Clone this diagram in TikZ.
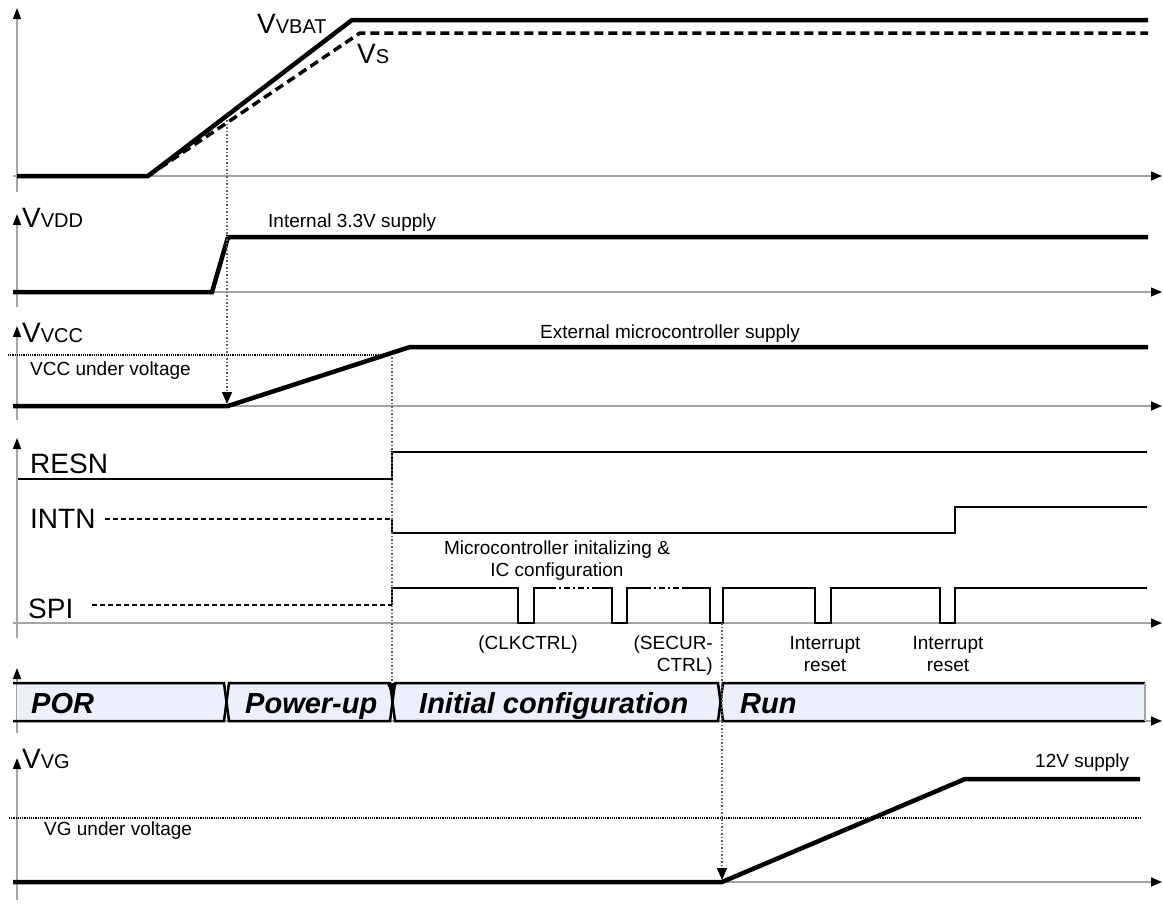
\documentclass[tikz,border=0pt]{standalone}
\usepackage{fontspec}
\setmainfont{Liberation Sans}
\usetikzlibrary{arrows.meta, positioning, calc}
\definecolor{axisGray}{RGB}{165,165,165}
\definecolor{guideGray}{RGB}{95,95,95}
\definecolor{stateFill}{RGB}{236,239,252}
\newcommand{\sigV}[1]{{\fontsize{28}{30}\selectfont V}{\fontsize{20}{22}\selectfont #1}}
\tikzset{
    timeAxis/.style={axisGray, line width=1.5pt, -{Triangle[length=11pt, width=9pt, color=black]}},
    levelAxis/.style={axisGray, line width=1.5pt, -{Triangle[length=11pt, width=8pt, color=black]}},
    supplyLine/.style={line width=4.5pt, line join=miter},
    logicLine/.style={line width=2.5pt, line join=miter},
    floatLine/.style={line width=2pt, dash pattern=on 5pt off 3pt},
    gapLine/.style={line width=2.5pt, dash pattern=on 6pt off 3pt on 2pt off 3pt},
    guideLine/.style={guideGray, line width=1.5pt, dotted},
    guideArrow/.style={guideLine, -{Triangle[length=12pt, width=10pt, color=black]}},
    threshLine/.style={line width=1.2pt, densely dotted},
    stateBox/.style={line width=2.5pt, fill=stateFill, line join=miter},
    voltLabel/.style={anchor=base west, inner sep=0pt},
    sigName/.style={font=\fontsize{28}{30}\selectfont, anchor=base west, inner sep=0pt},
    stateName/.style={font=\fontsize{29}{31}\selectfont\bfseries\itshape, anchor=base west, inner sep=0pt},
    note/.style={font=\fontsize{19}{22}\selectfont, inner sep=0pt, align=center},
}

\begin{document}
\begin{tikzpicture}[x=1pt, y=-1pt]
    \useasboundingbox (0,0) rectangle (1163,911);

    % VBAT and VS
    \draw[levelAxis] (17,192) -- (17,8);
    \draw[timeAxis] (13,176) -- (1162,176);
    \draw[supplyLine] (17,176) -- (148,176) -- (352,20) -- (1148,20);
    \draw[supplyLine, line width=3.5pt, dash pattern=on 9pt off 5pt] (148,176) -- (360,33) -- (1148,33);
    \node[voltLabel] (vbat) at (257,33) {\sigV{VBAT}};
    \node[voltLabel] (vs) at (357,63) {\sigV{S}};

    % VDD
    \draw[levelAxis] (17,307) -- (17,214);
    \draw[timeAxis] (13,292) -- (1162,292);
    \draw[supplyLine] (13,292) -- (212,292) -- (228,237) -- (1148,237);
    \node[voltLabel] (vdd) at (22,227) {\sigV{VDD}};
    \node[note, anchor=base west] (vddNote) at (268,227) {Internal 3.3V supply};

    % VCC
    \draw[levelAxis] (17,420) -- (17,326);
    \draw[timeAxis] (13,406) -- (1162,406);
    \draw[threshLine] (8,355) -- (385,355);
    \draw[supplyLine] (13,406) -- (228,406) -- (410,347) -- (1148,347);
    \node[voltLabel] (vcc) at (22,342) {\sigV{VCC}};
    \node[note, anchor=base west] (vccNote) at (540,338) {External microcontroller supply};
    \node[note, anchor=base west] (vccUv) at (30,375) {VCC under voltage};

    % RESN, INTN, SPI
    \draw[levelAxis] (17,638) -- (17,438);
    \draw[timeAxis] (13,623) -- (1162,623);
    \node[sigName] (resn) at (30,473) {RESN};
    \node[sigName] (intn) at (30,528) {INTN};
    \node[sigName] (spi) at (28,618) {SPI};
    \draw[logicLine] (18,479) -- (392,479) -- (392,452) -- (1147,452);
    \draw[floatLine] (105,519) -- (392,519);
    \draw[logicLine] (392,519) -- (392,533) -- (955,533) -- (955,507) -- (1147,507);
    \draw[floatLine] (92,605) -- (392,605);
    \draw[logicLine] (392,605) -- (392,588) -- (518,588) -- (518,623) -- (534,623)
        -- (534,588) -- (550,588);
    \draw[gapLine] (550,588) -- (593,588);
    \draw[logicLine] (593,588) -- (612,588) -- (612,623) -- (627,623) -- (627,588) -- (645,588);
    \draw[gapLine] (645,588) -- (683,588);
    \draw[logicLine] (683,588) -- (710,588) -- (710,623) -- (723,623) -- (723,588)
        -- (815,588) -- (815,623) -- (831,623) -- (831,588)
        -- (940,588) -- (940,623) -- (955,623) -- (955,588) -- (1147,588);
    \node[note, anchor=north] (mcuNote) at (557,541) {Microcontroller initalizing \&\\IC configuration};
    \node[note, anchor=north] (clkNote) at (528,636) {(CLKCTRL)};
    \node[note, anchor=north east, align=right] (securNote) at (713,636) {(SECUR-\\CTRL)};
    \node[note, anchor=north] (irqNoteA) at (825,636) {Interrupt\\reset};
    \node[note, anchor=north] (irqNoteB) at (948,636) {Interrupt\\reset};

    % Operating states
    \draw[levelAxis] (17,733) -- (17,668);
    \draw[timeAxis] (13,721) -- (1162,721);
    \fill[stateFill] (17,683) -- (224,683) -- (226.5,702) -- (224,721) -- (17,721) -- cycle;
    \draw[line width=2.5pt, line join=miter] (13,683) -- (224,683) -- (226.5,702) -- (224,721) -- (13,721);
    \draw[stateBox] (229,683) -- (390,683) -- (392.5,702) -- (390,721) -- (229,721) -- (226.5,702) -- cycle;
    \draw[stateBox] (395,683) -- (718,683) -- (720.5,702) -- (718,721) -- (395,721) -- (392.5,702) -- cycle;
    \fill[stateFill] (1145,683) -- (723,683) -- (720.5,702) -- (723,721) -- (1145,721) -- cycle;
    \draw[line width=2.5pt, line join=miter] (1145,683) -- (723,683) -- (720.5,702) -- (723,721) -- (1145,721);
    \draw[axisGray, line width=1.5pt] (1145,683) -- (1145,721);
    \node[stateName] (por) at (31,713) {POR};
    \node[stateName] (powerUp) at (245,713) {Power-up};
    \node[stateName] (initCfg) at (419,713) {Initial configuration};
    \node[stateName] (run) at (740,713) {Run};

    % VG
    \draw[levelAxis] (17,900) -- (17,758);
    \draw[timeAxis] (13,882) -- (1162,882);
    \draw[threshLine] (9,818) -- (1140,818);
    \draw[supplyLine] (13,882) -- (722,882) -- (965,779) -- (1140,779);
    \node[voltLabel] (vg) at (22,768) {\sigV{VG}};
    \node[note, anchor=base west] (vgNote) at (1035,767) {12V supply};
    \node[note, anchor=base west] (vgUv) at (44,835) {VG under voltage};

    % Sequence guides
    \coordinate (vbatTrip) at (227,120);
    \coordinate (vccRamp) at (227,404);
    \coordinate (vccTrip) at (392,357);
    \coordinate (cfgStart) at (392,695);
    \coordinate (cfgEnd) at (722,623);
    \coordinate (vgRamp) at (722,880);
    \draw[guideArrow] (vbatTrip) -- (vccRamp);
    \draw[guideArrow] (vccTrip) -- (cfgStart);
    \draw[guideArrow] (cfgEnd) -- (vgRamp);
\end{tikzpicture}
\end{document}
